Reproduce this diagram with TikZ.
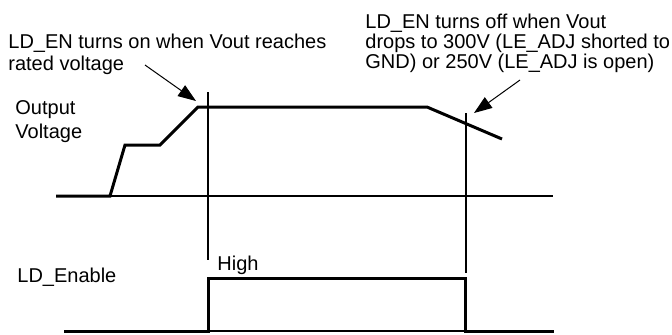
\documentclass[tikz,border=0pt]{standalone}
\usepackage{fontspec}
\setmainfont{Liberation Sans}
\usetikzlibrary{arrows.meta}
\begin{document}
\begin{tikzpicture}[x=0.5pt,y=-0.5pt,
  lbl/.style={anchor=base west,inner sep=0pt,font=\fontsize{10}{11}\selectfont},
  wave/.style={line width=1.5pt,line join=miter},
  guide/.style={line width=0.6pt},
  callout/.style={line width=0.5pt,-{Triangle[length=9pt,width=6.5pt]}}]
\useasboundingbox (0,0) rectangle (672,334);
% texts
\node[lbl] (on1) at (8,48) {LD\_EN turns on when Vout reaches};
\node[lbl] (on2) at (8,70) {rated voltage};
\node[lbl] (off1) at (365,28) {LD\_EN turns off when Vout};
\node[lbl] (off2) at (365,48) {drops to 300V (LE\_ADJ shorted to};
\node[lbl] (off3) at (365,68) {GND) or 250V (LE\_ADJ is open)};
\node[lbl] (out1) at (15,114) {Output};
\node[lbl] (out2) at (15,138) {Voltage};
\node[lbl] (ena) at (17,282) {LD\_Enable};
\node[lbl] (high) at (217,270) {High};
% key points
\coordinate (v0) at (56,196);
\coordinate (v1) at (110,196);
\coordinate (v2) at (125,145);
\coordinate (v3) at (160,145);
\coordinate (v4) at (198,107);
\coordinate (v5) at (427,107);
\coordinate (v6) at (502,139);
\coordinate (axend) at (553,196);
\coordinate (g1t) at (208,92);
\coordinate (g1b) at (208,260);
\coordinate (g2t) at (466,113);
\coordinate (g2b) at (466,273);
\coordinate (e0) at (64,331);
\coordinate (e1) at (208,331);
\coordinate (e2) at (208,278);
\coordinate (e3) at (465,278);
\coordinate (e4) at (465,331);
\coordinate (e5) at (554,331);
\coordinate (a1s) at (145,65);
\coordinate (a1e) at (196,101);
\coordinate (a2s) at (520,80);
\coordinate (a2e) at (474,113);
% guides
\draw[guide] (v1) -- (axend);
\draw[guide] (g1t) -- (g1b);
\draw[guide] (g2t) -- (g2b);
\draw[guide] (e1) -- (e4);
% waveforms
\draw[wave] (v0) -- (v1) -- (v2) -- (v3) -- (v4) -- (v5) -- (v6);
\draw[wave] (e0) -- (e1) -- (e2) -- (e3) -- (e4) -- (e5);
% callouts
\draw[callout] (a1s) -- (a1e);
\draw[callout] (a2s) -- (a2e);
\end{tikzpicture}
\end{document}
